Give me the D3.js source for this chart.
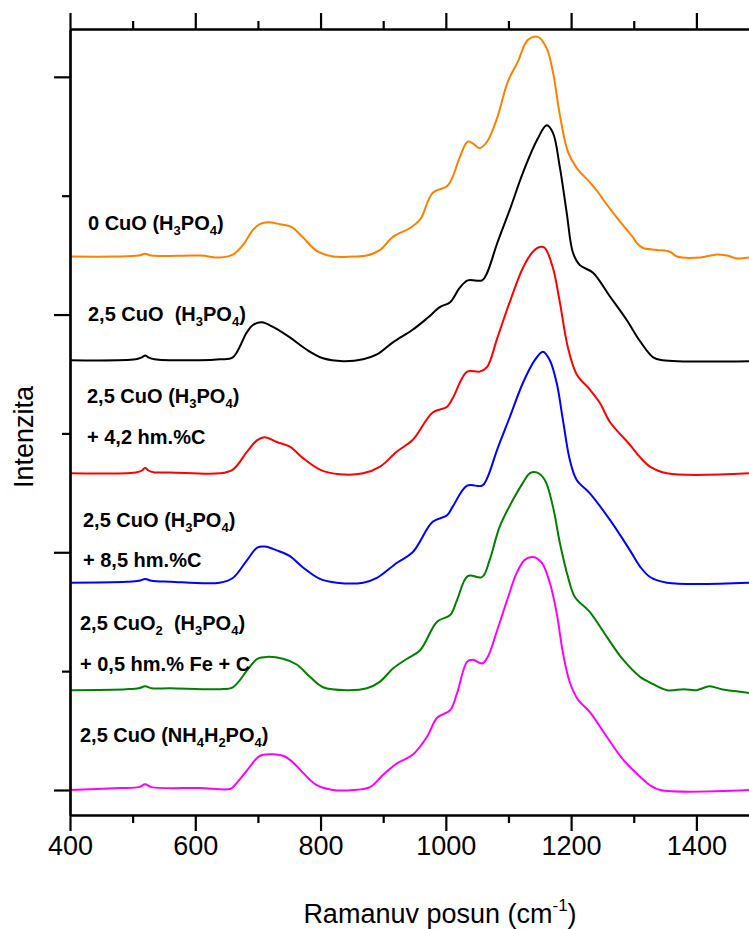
<!DOCTYPE html>
<html><head><meta charset="utf-8">
<script src="https://cdn.jsdelivr.net/npm/d3@7"></script>
<style>body{margin:0;background:#fff}svg{display:block}</style>
</head><body>
<svg id="c" width="749" height="929"></svg>
<script>
// ---- data (Raman shift cm^-1, intensity a.u. incl. vertical offset) ----
const xMajorTicks = [400, 600, 800, 1000, 1200, 1400];
const xMinorTicks = [500, 700, 900, 1100, 1300];
const yMajorTicks = [0, 250, 500, 750];
const yMinorTicks = [125, 375, 625];

const s0CuO = [[400,561],[470,561],[510,562],[520,564],[530,562],[608,562],[639,560],[660,563],[676,573],[692,589],[703,595],[716,597],[735,595],[754,592],[772,581],[794,567],[820,561],[852,561],[874,562],[895,568],[916,582],[943,591],[959,600],[979,628],[1002,635],[1011,645],[1022,665],[1035,682],[1043,680],[1054,675],[1066,682],[1082,707],[1099,745],[1115,766],[1131,789],[1147,792],[1161,780],[1171,755],[1182,710],[1195,671],[1209,654],[1230,639],[1246,626],[1251,621],[1273,602],[1299,581],[1305,575],[1315,570],[1337,568],[1358,566],[1369,561],[1406,560],[1430,563],[1449,562],[1465,559],[1484,560]];
const s25CuO = [[400,452],[505,453],[515,455],[520,457],[525,455],[535,453],[607,452],[639,453],[660,455],[682,481],[692,489],[706,492],[724,487],[751,476],[778,463],[804,454],[836,451],[868,453],[890,458],[916,471],[947,484],[970,496],[991,508],[1007,513],[1022,528],[1035,536],[1058,536],[1066,544],[1082,575],[1102,610],[1123,649],[1146,684],[1161,699],[1171,691],[1182,655],[1193,607],[1203,565],[1214,552],[1235,544],[1262,519],[1289,494],[1310,472],[1331,455],[1346,452],[1484,451]];
const s25CuO_C42 = [[400,333],[505,334],[515,336],[520,339],[525,336],[535,334],[560,334],[639,333],[660,337],[683,356],[699,368],[711,371],[730,366],[751,361],[772,349],[799,337],[831,332],[868,333],[895,340],[922,356],[947,368],[979,397],[1002,403],[1011,412],[1034,440],[1054,440],[1066,445],[1082,475],[1102,513],[1123,549],[1139,566],[1150,571],[1158,570],[1171,549],[1182,513],[1195,465],[1209,437],[1230,421],[1246,407],[1262,387],[1294,363],[1310,350],[1326,340],[1353,333],[1484,333]];
const s25CuO_C85 = [[400,218],[490,219],[510,220],[520,222],[530,220],[560,219],[639,218],[660,223],[683,242],[699,255],[711,256],[730,252],[751,246],[772,234],[799,222],[826,218],[868,218],[890,223],[922,239],[947,250],[979,282],[1002,289],[1011,298],[1034,320],[1058,320],[1066,328],[1082,358],[1102,392],[1123,428],[1142,452],[1155,461],[1166,452],[1177,428],[1187,389],[1198,347],[1209,326],[1230,312],[1262,284],[1294,252],[1310,235],[1326,224],[1353,218],[1484,218]];
const s25CuO2_Fe = [[400,105],[490,106],[510,107],[520,109],[530,107],[560,107],[639,106],[660,108],[683,126],[699,138],[716,140],[740,138],[762,132],[783,119],[804,108],[842,105],[874,107],[895,114],[916,128],[938,138],[959,147],[986,177],[1007,184],[1018,200],[1035,225],[1058,224],[1070,242],[1086,277],[1107,305],[1123,323],[1134,333],[1145,334],[1158,326],[1171,298],[1182,260],[1195,224],[1206,203],[1230,187],[1257,161],[1283,137],[1310,119],[1326,113],[1353,105],[1380,106],[1400,105],[1421,109],[1440,106],[1460,104],[1484,102]];
const s25CuO_NH4 = [[400,0],[480,2],[510,3],[520,6],[530,3],[607,2],[655,1],[660,3],[683,21],[699,34],[708,37],[740,36],[756,29],[772,18],[794,5],[820,0],[852,0],[879,3],[900,16],[922,28],[947,37],[970,56],[986,76],[1007,84],[1018,102],[1034,135],[1043,137],[1058,133],[1067,140],[1082,168],[1098,200],[1113,228],[1126,242],[1139,245],[1153,239],[1166,218],[1177,186],[1187,144],[1198,113],[1211,95],[1230,82],[1257,56],[1283,32],[1310,14],[1326,5],[1342,0],[1484,0]];

const seriesList = [s0CuO, s25CuO, s25CuO_C42, s25CuO_C85, s25CuO2_Fe, s25CuO_NH4];
const seriesColors = ["#FF8000", "#000000", "#FF0000", "#0000FF", "#008000", "#FF00FF"];

// label text lines: [text, sub?] segments
const labelLines = [
  [["0 CuO (H",0],["3",1],["PO",0],["4",1],[")",0]],
  [["2,5 CuO\u00a0 (H",0],["3",1],["PO",0],["4",1],[")",0]],
  [["2,5 CuO (H",0],["3",1],["PO",0],["4",1],[")",0]],
  [["+ 4,2 hm.%C",0]],
  [["2,5 CuO (H",0],["3",1],["PO",0],["4",1],[")",0]],
  [["+ 8,5 hm.%C",0]],
  [["2,5 CuO",0],["2",1],["\u00a0 (H",0],["3",1],["PO",0],["4",1],[")",0]],
  [["+ 0,5 hm.% Fe + C",0]],
  [["2,5 CuO (NH",0],["4",1],["H",0],["2",1],["PO",0],["4",1],[")",0]]
];
const labelXY = [[88,230],[88,321],[87,403],[87,444],[83,527],[83,567],[80,630],[80,671],[80,742]];

// ---- layout ----
const svg = d3.select("#c");
const L = 70, R = 749, T = 29, B = 815;
const x = d3.scaleLinear().domain([400, 1484]).range([L, R]);
const y = d3.scaleLinear().domain([-26.3, 800.3]).range([B, T]);
const FONT = "Arial, 'Liberation Sans', sans-serif";

svg.append("defs").append("clipPath").attr("id","clip")
  .append("rect").attr("x",L).attr("y",T).attr("width",R-L).attr("height",B-T);

// curves
const line = d3.line().x(d=>x(d[0])).y(d=>y(d[1])).curve(d3.curveCatmullRom.alpha(0.5));
const g = svg.append("g").attr("clip-path","url(#clip)");
seriesList.forEach((s,i)=>{
  g.append("path").datum(s).attr("d",line).attr("fill","none")
    .attr("stroke",seriesColors[i]).attr("stroke-width",2).attr("stroke-linejoin","round");
});

function styleAxis(sel){
  sel.selectAll("path.domain").attr("stroke","#000").attr("stroke-width",2.2);
  sel.selectAll(".tick line").attr("stroke","#000").attr("stroke-width",2.2);
}
// bottom axis
const bx = svg.append("g").attr("transform",`translate(0,${B})`)
  .call(d3.axisBottom(x).tickValues(xMajorTicks).tickSize(16).tickSizeOuter(0).tickPadding(5).tickFormat(d3.format("d")));
styleAxis(bx);
bx.selectAll("text").attr("font-family",FONT).attr("font-size",27).attr("fill","#000");
const bxm = svg.append("g").attr("transform",`translate(0,${B})`)
  .call(d3.axisBottom(x).tickValues(xMinorTicks).tickSize(8).tickSizeOuter(0).tickFormat(""));
styleAxis(bxm);
// top axis
const tx = svg.append("g").attr("transform",`translate(0,${T})`)
  .call(d3.axisTop(x).tickValues(xMajorTicks).tickSize(16).tickSizeOuter(0).tickFormat(""));
styleAxis(tx);
const txm = svg.append("g").attr("transform",`translate(0,${T})`)
  .call(d3.axisTop(x).tickValues(xMinorTicks).tickSize(8).tickSizeOuter(0).tickFormat(""));
styleAxis(txm);
// left axis
const ly = svg.append("g").attr("transform",`translate(${L},0)`)
  .call(d3.axisLeft(y).tickValues(yMajorTicks).tickSize(16).tickSizeOuter(0).tickFormat(""));
styleAxis(ly);
const lym = svg.append("g").attr("transform",`translate(${L},0)`)
  .call(d3.axisLeft(y).tickValues(yMinorTicks).tickSize(8).tickSizeOuter(0).tickFormat(""));
styleAxis(lym);

// axis titles
const xt = svg.append("text").attr("x", 440).attr("y", 923).attr("text-anchor","middle")
  .attr("font-family",FONT).attr("font-size",27).attr("fill","#000");
xt.append("tspan").text("Ramanuv posun (cm");
xt.append("tspan").attr("font-size",17).attr("dy",-12).text("-1");
xt.append("tspan").attr("dy",12).text(")");

svg.append("text").attr("transform","translate(33,437) rotate(-90)").attr("text-anchor","middle")
  .attr("font-family",FONT).attr("font-size",27).attr("fill","#000").text("Intenzita");

// series labels
labelLines.forEach((segs,i)=>{
  const t = svg.append("text").attr("x",labelXY[i][0]).attr("y",labelXY[i][1])
    .attr("font-family",FONT).attr("font-size",20).attr("font-weight","bold").attr("fill","#000");
  let sub = false;
  segs.forEach(([txt,isSub])=>{
    const sp = t.append("tspan").text(txt);
    if (isSub && !sub){ sp.attr("font-size",13).attr("dy",5); sub = true; }
    else if (isSub && sub){ sp.attr("font-size",13); }
    else if (!isSub && sub){ sp.attr("dy",-5); sub = false; }
  });
});
</script>
</body></html>
